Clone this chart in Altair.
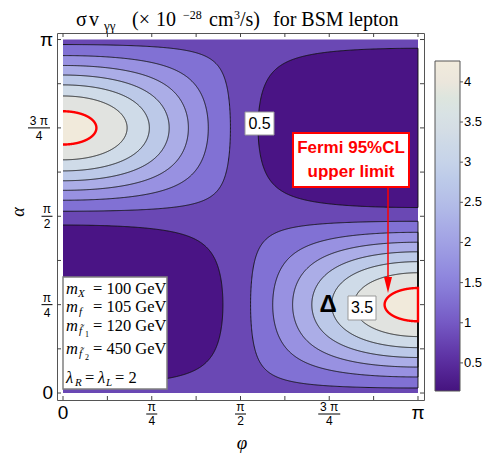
import numpy as np
import pandas as pd
import altair as alt

PI = float(np.pi)

# ---------------- values ----------------
# sigma*v is described by a quadratic in w = -sin(2a)*cos(phi), coefficients read off the contours
fit_coefficients = [0.80, 2.133, 1.267]          # A, B, C  in  A + B*w + C*w^2
contour_levels = [0.5, 1.0, 1.5, 2.0, 2.5, 3.0, 3.5]
fermi_level = 4.0
fill_levels = [1.0, 1.5, 2.0, 2.5, 3.0, 3.5, 4.0]
band_colors = ["#4a1485", "#6a48b4", "#8171d4", "#9891e1", "#abade7",
               "#bcc9e8", "#cfdbe8", "#e1e3e0", "#f1eadb"]
bar_stops = [0.15, 0.5, 1.0, 1.5, 2.0, 2.5, 3.0, 3.5, 4.0, 4.26]
bar_colors = ["#45137f", "#5a2c9e", "#7559c4", "#8c82dc", "#a1a1e4",
              "#b4bde8", "#c6d3e9", "#d9dfe4", "#ebe6dc", "#f2ebdc"]
bar_ticks = [0.5, 1.0, 1.5, 2.0, 2.5, 3.0, 3.5, 4.0]
tick_eighths = list(range(9))
frac_num = ["π", "π", "3 π"]
frac_den = ["4", "2", "4"]
frac_pos = [1, 2, 3]          # in units of pi/4
end_labels = ["0", "π"]
end_pos = [0, 4]
param_values = ["= 100 GeV", "= 105 GeV", "= 120 GeV", "= 450 GeV"]

# ---------------- layout (styling) ----------------
W, H = 367, 367
XMIN, XMAX = -0.0531, PI + 0.0531
YMIN, YMAX = -0.062, PI + 0.058
OX, OY = 57, 33   # page position of the plot frame


def dxp(px_page):
    return XMIN + (px_page - OX) / W * (XMAX - XMIN)


def dyp(py_page):
    return YMIN + (H - (py_page - OY)) / H * (YMAX - YMIN)


xs = alt.Scale(domain=[XMIN, XMAX], nice=False, zero=False)
ys = alt.Scale(domain=[YMIN, YMAX], nice=False, zero=False)
X = lambda f: alt.X(f, scale=xs, axis=None)
Y = lambda f: alt.Y(f, scale=ys, axis=None)

A, B, C = fit_coefficients


def w_of(level):
    return (-B + np.sqrt(B * B - 4 * C * (A - level))) / (2 * C)


def blob(t, half, side, grp, n=260):
    phimax = np.arccos(t)
    u = np.linspace(0, 1, n)
    phi = phimax * np.sin(PI * u / 2)
    s = np.clip(t / np.cos(phi), -1, 1)
    a = np.arcsin(s) / 2
    if half == "lower":
        lo, hi = a, PI / 2 - a
    else:
        lo, hi = PI / 2 + a, PI - a
    if side == "right":
        phi, lo, hi = (PI - phi)[::-1], lo[::-1], hi[::-1]
    area = pd.DataFrame({"phi": phi, "lo": lo, "hi": hi, "grp": grp})
    line = pd.DataFrame({"phi": np.concatenate([phi, phi[::-1]]),
                         "al": np.concatenate([lo, hi[::-1]]),
                         "grp": grp})
    line["ord"] = np.arange(len(line))
    return area, line


layers = []
# background band (0.5 - 1)
layers.append(alt.Chart(pd.DataFrame({"x": [0.0], "x2": [PI], "y": [0.0], "y2": [PI]}))
              .mark_rect(color=band_colors[1])
              .encode(x=X("x:Q"), x2="x2:Q", y=Y("y:Q"), y2="y2:Q"))

line_frames = []
# dark regions (< 0.5)
t_dark = -w_of(contour_levels[0])
a1, l1 = blob(t_dark, "lower", "left", "d1")
a2, l2 = blob(t_dark, "upper", "right", "d2")
layers.append(alt.Chart(pd.concat([a1, a2])).mark_area(color=band_colors[0])
              .encode(x=X("phi:Q"), y=Y("lo:Q"), y2="hi:Q", detail="grp:N"))
line_frames += [l1, l2]

red_frames = []
for i, lev in enumerate(fill_levels):
    t = w_of(lev)
    a1, l1 = blob(t, "upper", "left", f"L{i}a")
    a2, l2 = blob(t, "lower", "right", f"L{i}b")
    layers.append(alt.Chart(pd.concat([a1, a2])).mark_area(color=band_colors[i + 2])
                  .encode(x=X("phi:Q"), y=Y("lo:Q"), y2="hi:Q", detail="grp:N"))
    if lev == fermi_level:
        red_frames += [l1, l2]
    else:
        line_frames += [l1, l2]

layers.append(alt.Chart(pd.concat(line_frames)).mark_line(color="#111111", strokeWidth=0.9)
              .encode(x=X("phi:Q"), y=Y("al:Q"), detail="grp:N", order="ord:Q"))
layers.append(alt.Chart(pd.concat(red_frames)).mark_line(color="#ff0000", strokeWidth=2.4)
              .encode(x=X("phi:Q"), y=Y("al:Q"), detail="grp:N", order="ord:Q"))

# inward frame ticks
Lx = 4 / W * (XMAX - XMIN)
Ly = 4 / H * (YMAX - YMIN)
tk = []
for k in tick_eighths:
    p = k * PI / 8
    tk += [dict(x=p, x2=p, y=YMIN, y2=YMIN + Ly), dict(x=p, x2=p, y=YMAX, y2=YMAX - Ly),
           dict(x=XMIN, x2=XMIN + Lx, y=p, y2=p), dict(x=XMAX, x2=XMAX - Lx, y=p, y2=p)]
layers.append(alt.Chart(pd.DataFrame(tk)).mark_rule(color="#444444", strokeWidth=1)
              .encode(x=X("x:Q"), x2="x2:Q", y=Y("y:Q"), y2="y2:Q"))

SANS = "Liberation Sans"
SERIF = "Liberation Serif"
FS = 12
# tick labels: bottom axis
fr = pd.DataFrame({"p": [k * PI / 4 for k in frac_pos], "num": frac_num, "den": frac_den,
                   "hw": [5.5, 5.5, 11.0]})
fr["b1"] = fr["p"] - fr["hw"] / W * (XMAX - XMIN)
fr["b2"] = fr["p"] + fr["hw"] / W * (XMAX - XMIN)
ends = pd.DataFrame({"p": [k * PI / 4 for k in end_pos], "t": end_labels})
layers.append(alt.Chart(fr).mark_text(font=SANS, fontSize=FS, baseline="middle")
              .encode(x=X("p:Q"), y=alt.value(407 - OY), text="num:N"))
layers.append(alt.Chart(fr).mark_text(font=SANS, fontSize=FS, baseline="middle")
              .encode(x=X("p:Q"), y=alt.value(421 - OY), text="den:N"))
layers.append(alt.Chart(fr).mark_rule(color="black", strokeWidth=1)
              .encode(x=X("b1:Q"), x2="b2:Q", y=alt.value(414 - OY)))
layers.append(alt.Chart(ends).mark_text(font=SANS, fontSize=19, baseline="middle")
              .encode(x=X("p:Q"), y=alt.value(413 - OY), text="t:N"))
# left axis
fl = pd.DataFrame({"p": [k * PI / 4 for k in frac_pos], "num": frac_num, "den": frac_den,
                   "cx": [47 - OX, 47 - OX, 39 - OX], "hw": [5.5, 5.5, 11.0]})
for _, r in fl.iterrows():
    one = pd.DataFrame([r])
    layers.append(alt.Chart(one).mark_text(font=SANS, fontSize=FS, baseline="middle", dy=-7)
                  .encode(x=alt.value(r["cx"]), y=Y("p:Q"), text="num:N"))
    layers.append(alt.Chart(one).mark_text(font=SANS, fontSize=FS, baseline="middle", dy=8)
                  .encode(x=alt.value(r["cx"]), y=Y("p:Q"), text="den:N"))
    layers.append(alt.Chart(one).mark_rule(color="black", strokeWidth=1)
                  .encode(x=alt.value(r["cx"] - r["hw"]), x2=alt.value(r["cx"] + r["hw"]), y=Y("p:Q")))
layers.append(alt.Chart(ends).mark_text(font=SANS, fontSize=19, baseline="middle", align="right")
              .encode(x=alt.value(53 - OX), y=Y("p:Q"), text="t:N"))


def texts(rows, font, style="normal", weight="normal", align="left", baseline="alphabetic",
          color="black", angle=0):
    df = pd.DataFrame(rows, columns=["t", "px", "py", "s"])
    df["x"] = [dxp(v) for v in df["px"]]
    df["y"] = [dyp(v) for v in df["py"]]
    return (alt.Chart(df).mark_text(font=font, fontStyle=style, fontWeight=weight, align=align,
                                    baseline=baseline, color=color, angle=angle)
            .encode(x=X("x:Q"), y=Y("y:Q"), text="t:N", size=alt.Size("s:Q", scale=None)))


# title
TB = 26
layers.append(texts([("σ", 76, TB, 20), ("v", 89, TB, 20), ("(×", 132, TB, 20), ("10", 156, TB, 20),
                     ("cm", 209, TB, 20), ("/s)", 240, TB, 20), ("for BSM lepton", 273, TB, 20),
                     ("γγ", 104, TB + 4, 13), ("−28", 183, TB - 7, 12), ("3", 234, TB - 7, 12)],
                    SERIF))
# axis titles
layers.append(texts([("φ", 242, 449, 19)], SERIF, style="italic", align="center"))
layers.append(texts([("α", 19, 212, 18)], SERIF, style="italic", align="center", baseline="middle",
                    angle=270))

# parameter box
box = pd.DataFrame({"x": [dxp(63)], "x2": [dxp(167)], "y": [dyp(277)], "y2": [dyp(389)]})
layers.append(alt.Chart(box).mark_rect(fill="white", stroke="#808080", strokeWidth=1.5)
              .encode(x=X("x:Q"), x2="x2:Q", y=Y("y:Q"), y2="y2:Q"))
layers.append(texts([("m", 66, 294, 16.5), ("m", 66, 312, 16.5), ("m", 66, 331, 16.5),
                     ("m", 66, 354, 16.5), ("λ", 66, 383, 16.5), ("λ", 98, 383, 16.5)],
                    SERIF, style="italic"))
layers.append(texts([("X", 78, 297, 11), ("f", 79, 315, 11), ("f\u0303", 79, 334, 11),
                     ("f\u0303", 79, 357, 11), ("R", 75, 386, 11), ("L", 106, 386, 11)],
                    SERIF, style="italic"))
layers.append(texts([("1", 85, 337, 8), ("2", 85, 360, 8)], SERIF))
layers.append(texts([(param_values[0], 93, 294, 16.5), (param_values[1], 93, 312, 16.5),
                     (param_values[2], 93, 331, 16.5), (param_values[3], 93, 354, 16.5),
                     ("=", 85, 383, 16.5), ("= 2", 115, 383, 16.5)], SERIF))

# contour labels
lb = pd.DataFrame({"x": [dxp(245), dxp(348)], "x2": [dxp(274), dxp(376)],
                   "y": [dyp(112), dyp(296)], "y2": [dyp(135), dyp(320)]})
layers.append(alt.Chart(lb).mark_rect(fill="white", stroke="#999999", strokeWidth=1)
              .encode(x=X("x:Q"), x2="x2:Q", y=Y("y:Q"), y2="y2:Q"))
layers.append(texts([("0.5", 259.5, 124, 16), ("3.5", 362, 308, 16)], SANS, align="center",
                    baseline="middle"))
layers.append(texts([("Δ", 328, 305, 24)], SANS, weight="bold", align="center", baseline="middle"))

# Fermi annotation
fb = pd.DataFrame({"x": [dxp(293)], "x2": [dxp(409)], "y": [dyp(133)], "y2": [dyp(187)]})
layers.append(alt.Chart(fb).mark_rect(fill="white", stroke="#ff0000", strokeWidth=2)
              .encode(x=X("x:Q"), x2="x2:Q", y=Y("y:Q"), y2="y2:Q"))
layers.append(texts([("Fermi 95%CL", 351, 148, 17), ("upper limit", 351, 172, 17)], SANS,
                    weight="bold", align="center", baseline="middle", color="#ff0000"))
ar = pd.DataFrame({"x": [dxp(388)], "y": [dyp(188)], "y2": [dyp(279)]})
layers.append(alt.Chart(ar).mark_rule(color="#ff0000", strokeWidth=1.5)
              .encode(x=X("x:Q"), y=Y("y:Q"), y2="y2:Q"))
ah = pd.DataFrame({"x": [dxp(388)], "y": [dyp(285)]})
layers.append(alt.Chart(ah).mark_point(shape="M-0.5,-1L0.5,-1L0,1Z", size=256, filled=True,
                                       color="#ff0000", opacity=1)
              .encode(x=X("x:Q"), y=Y("y:Q")))

# colour bar (legend of an invisible layer) and its ticks
CB_L, CB_R = 435, 460
cb = pd.DataFrame({"v": bar_stops})
layers.append(alt.Chart(cb).mark_point(opacity=0)
              .encode(x=alt.value(0), y=alt.value(0),
                      color=alt.Color("v:Q",
                                      scale=alt.Scale(domain=bar_stops, range=bar_colors),
                                      legend=alt.Legend(orient="none", legendX=CB_L - OX, legendY=28,
                                                        direction="vertical", gradientLength=330,
                                                        gradientThickness=CB_R - CB_L, title=None,
                                                        values=bar_ticks, format="~g",
                                                        labelFont=SANS, labelFontSize=13,
                                                        labelColor="black", labelOffset=4,
                                                        labelOverlap=False,
                                                        gradientStrokeColor="#555555",
                                                        gradientStrokeWidth=1, padding=0))))
bt = pd.DataFrame({"v": bar_ticks})
bt["py"] = 391 - (bt["v"] - bar_stops[0]) / (bar_stops[-1] - bar_stops[0]) * 330
bt["y"] = [dyp(v) for v in bt["py"]]
bt["x"] = dxp(CB_R)
bt["x2"] = dxp(CB_R + 3)
layers.append(alt.Chart(bt).mark_rule(color="#555555", strokeWidth=1)
              .encode(x=X("x:Q"), x2="x2:Q", y=Y("y:Q")))

chart = (alt.layer(*layers)
         .properties(width=W, height=H, autosize=alt.AutoSizeParams(type="none"),
                     padding={"left": 49, "top": 25, "right": 58, "bottom": 53},
                     background="white")
         .configure_view(stroke="#555555", strokeWidth=1))

chart.save("out.html", embed_options={"renderer": "svg", "actions": False})
